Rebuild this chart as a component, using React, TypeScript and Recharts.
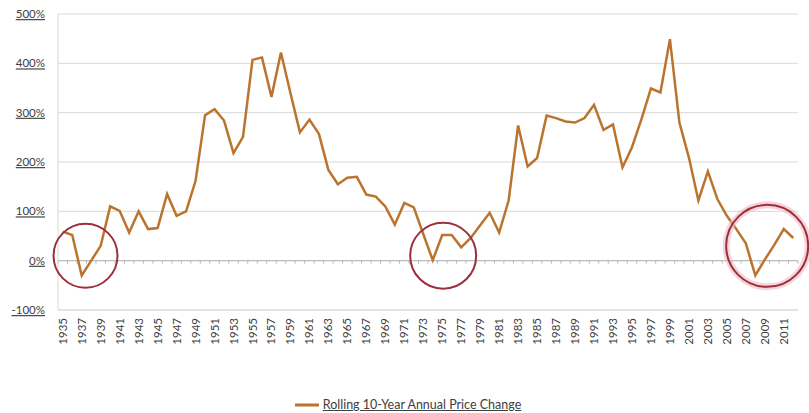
import React from "react";
import {
  LineChart, Line, XAxis, YAxis, CartesianGrid, Legend,
  ReferenceLine, ReferenceDot,
} from "recharts";

const years = [
  1935, 1936, 1937, 1938, 1939, 1940, 1941, 1942, 1943, 1944, 1945, 1946, 1947,
  1948, 1949, 1950, 1951, 1952, 1953, 1954, 1955, 1956, 1957, 1958, 1959, 1960,
  1961, 1962, 1963, 1964, 1965, 1966, 1967, 1968, 1969, 1970, 1971, 1972, 1973,
  1974, 1975, 1976, 1977, 1978, 1979, 1980, 1981, 1982, 1983, 1984, 1985, 1986,
  1987, 1988, 1989, 1990, 1991, 1992, 1993, 1994, 1995, 1996, 1997, 1998, 1999,
  2000, 2001, 2002, 2003, 2004, 2005, 2006, 2007, 2008, 2009, 2010, 2011, 2012,
];

// rolling 10-year annual price change, %
const priceChange = [
  59, 52, -30, 0, 30, 110, 101, 57, 100, 64, 66, 135, 91,
  100, 162, 295, 307, 284, 218, 251, 407, 412, 332, 422, 340, 260,
  286, 257, 184, 155, 168, 170, 134, 130, 110, 73, 117, 108, 54,
  1, 52, 52, 27, 46, 72, 97, 57, 122, 274, 191, 208, 294,
  289, 282, 280, 289, 316, 265, 276, 189, 230, 287, 349, 341, 449,
  280, 209, 122, 181, 125, 91, 64, 35, -30, 2, 32, 64, 46,
];

const yearTicks = [
  1935, 1937, 1939, 1941, 1943, 1945, 1947, 1949, 1951, 1953, 1955, 1957, 1959,
  1961, 1963, 1965, 1967, 1969, 1971, 1973, 1975, 1977, 1979, 1981, 1983, 1985,
  1987, 1989, 1991, 1993, 1995, 1997, 1999, 2001, 2003, 2005, 2007, 2009, 2011,
];

const pctTicks = [-100, 0, 100, 200, 300, 400, 500];

const data = years.map((year, i) => ({ year, change: priceChange[i] }));
// category boundaries for the little ticks on the 0% line
const bounds = [years[0] - 0.5, ...years.map((y) => y + 0.5)];

const FONT = "Lato, 'Liberation Sans', sans-serif";
const LINE = "#bb742f";
const RING = "#9c2f3e";

const YearTick = ({ x, y, payload }: any) => (
  <text
    x={x}
    y={y}
    transform={`rotate(-90 ${x} ${y})`}
    textAnchor="end"
    dy="0.35em"
    fill="#404040"
    fontSize={11.5}
    fontFamily={FONT}
  >
    {payload.value}
  </text>
);

export default function App() {
  return (
    <div style={{ position: "absolute", left: 0, top: 0, background: "#fff" }}>
      <LineChart
        width={809}
        height={413}
        data={data}
        margin={{ top: 14, right: 11, left: 0, bottom: 0 }}
      >
        <CartesianGrid vertical={false} stroke="#d9d9d9" strokeWidth={1} />
        <XAxis
          dataKey="year"
          type="number"
          domain={[1934.5, 2012.5]}
          ticks={yearTicks}
          interval={0}
          tick={<YearTick />}
          tickLine={false}
          tickSize={6}
          tickMargin={2}
          axisLine={{ stroke: "#d9d9d9" }}
          height={79}
        />
        <YAxis
          domain={[-100, 500]}
          ticks={pctTicks}
          tickFormatter={(v) => `${v}%`}
          tickLine={false}
          tickSize={6}
          tickMargin={7}
          axisLine={{ stroke: "#d9d9d9" }}
          width={58}
          tick={{ fill: "#404040", fontSize: 11.5, fontFamily: FONT, textDecoration: "underline" }}
        />
        <ReferenceLine y={0} stroke="#b5b5b5" />
        {bounds.map((b) => (
          <ReferenceLine
            key={b}
            segment={[{ x: b, y: 0 }, { x: b, y: -6 }]}
            stroke="#b5b5b5"
          />
        ))}
        <Line
          type="linear"
          dataKey="change"
          name="Rolling 10-Year Annual Price Change"
          stroke={LINE}
          strokeWidth={2.5}
          dot={false}
          isAnimationActive={false}
        />
        <ReferenceDot x={1937.4} y={10} r={32} fill="none" stroke={RING} strokeWidth={2} />
        <ReferenceDot x={1975.1} y={10} r={33} fill="none" stroke={RING} strokeWidth={2} />
        <ReferenceDot x={2009.25} y={30} r={41} fill="none" stroke="#f0b8c0" strokeWidth={7} strokeOpacity={0.6} />
        <ReferenceDot x={2009.25} y={30} r={41} fill="none" stroke={RING} strokeWidth={2} />
        <Legend
          verticalAlign="bottom"
          iconType="plainline"
          iconSize={24}
          formatter={(value) => (
            <span style={{ color: "#404040", fontSize: 12.5, fontFamily: FONT, textDecoration: "underline" }}>
              {value}
            </span>
          )}
          wrapperStyle={{ bottom: -3, height: 24, lineHeight: "24px", paddingLeft: 14 }}
        />
      </LineChart>
    </div>
  );
}
